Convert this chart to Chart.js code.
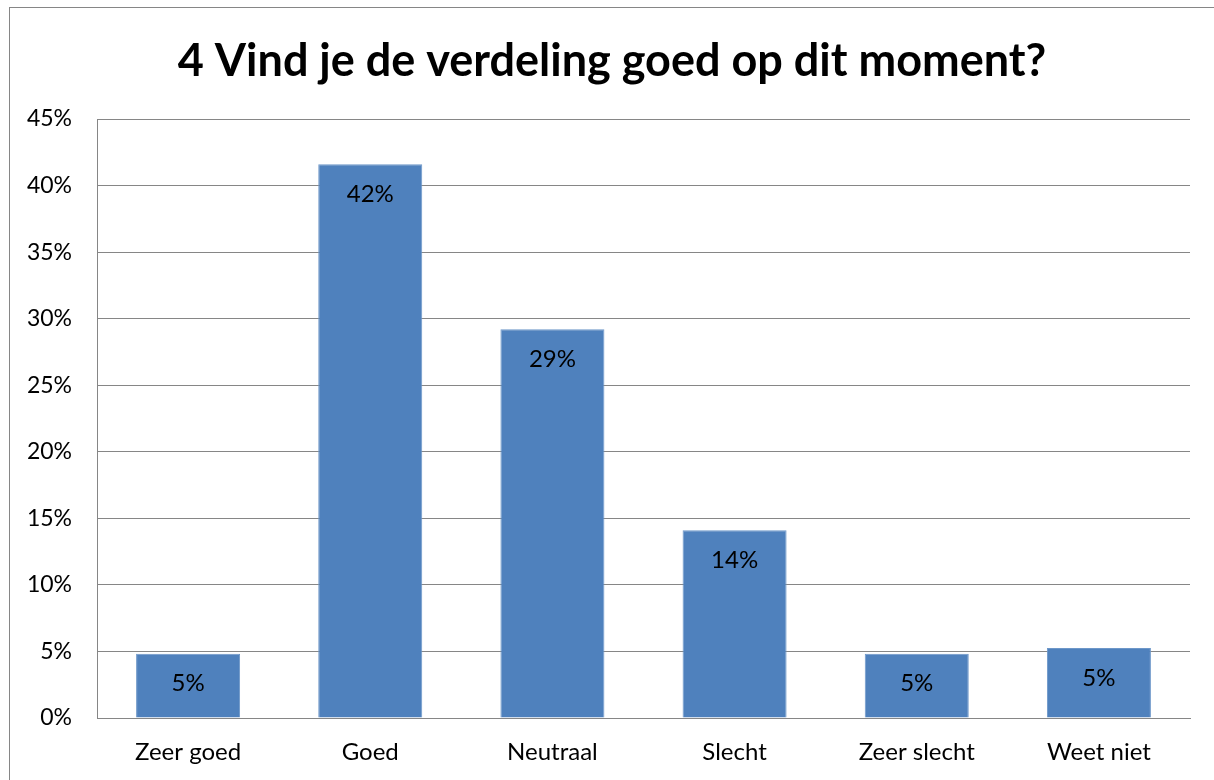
<!DOCTYPE html>
<html>
<head>
<meta charset="utf-8">
<script src="https://cdn.jsdelivr.net/npm/chart.js@4/dist/chart.umd.min.js"></script>
<style>
  html, body { margin: 0; padding: 0; background: #fff; overflow: hidden; }
  #wrap { position: relative; width: 1214px; height: 780px; }
  #frame { position: absolute; left: 9px; top: 7px; width: 1220px; height: 800px; border: 1px solid #868686; }
  #chart { position: absolute; left: 0; top: 0; }
</style>
</head>
<body>
<div id="wrap">
  <div id="frame"></div>
  <canvas id="chart" width="1214" height="780"></canvas>
</div>
<script>
const TITLE = "4 Vind je de verdeling goed op dit moment?";
const categories = ["Zeer goed", "Goed", "Neutraal", "Slecht", "Zeer slecht", "Weet niet"];
const shares = [4.83, 41.6, 29.2, 14.1, 4.83, 5.26];
const Y_MAX = 45;
const Y_STEP = 5;

const FONT = "Lato, 'Open Sans', sans-serif";
const BAR_BLUE = "#4f81bd";
const GRID_GREY = "#868686";

// draws the value inside the top of each bar, like the "inside end" labels
const barLabels = {
  id: "barLabels",
  afterDatasetsDraw(chart) {
    const ctx = chart.ctx;
    const meta = chart.getDatasetMeta(0);
    ctx.save();
    ctx.font = "24px " + FONT;
    ctx.fillStyle = "#000";
    ctx.textAlign = "center";
    ctx.textBaseline = "middle";
    meta.data.forEach((bar, i) => {
      ctx.fillText(Math.round(shares[i]) + "%", bar.x, bar.y + 30);
    });
    ctx.restore();
  }
};

new Chart(document.getElementById("chart"), {
  type: "bar",
  data: {
    labels: categories,
    datasets: [{
      data: shares,
      backgroundColor: BAR_BLUE,
      borderColor: "#6d97c9",
      borderWidth: 1,
      categoryPercentage: 1,
      barPercentage: 0.571
    }]
  },
  options: {
    responsive: false,
    animation: false,
    // left/right padding keeps the title centred on the framed box
    layout: { padding: { left: 17, right: 7, top: 0, bottom: 0 } },
    plugins: {
      legend: { display: false },
      tooltip: { enabled: false },
      title: {
        display: true,
        text: TITLE,
        color: "#000",
        font: { family: FONT, size: 45, weight: "bold", lineHeight: 1.2 },
        padding: { top: 34, bottom: 31 }
      }
    },
    scales: {
      x: {
        grid: { display: false, drawTicks: false },
        border: { display: true, color: GRID_GREY, width: 1 },
        ticks: { color: "#000", font: { family: FONT, size: 24 }, padding: 20 },
        afterFit(scale) { scale.height = 62; }
      },
      y: {
        min: 0,
        max: Y_MAX,
        ticks: {
          stepSize: Y_STEP,
          color: "#000",
          font: { family: FONT, size: 23 },
          padding: 25,
          callback: (v) => v + "%"
        },
        grid: { color: GRID_GREY, lineWidth: 1, drawTicks: false },
        border: { display: true, color: GRID_GREY, width: 1 },
        afterFit(scale) { scale.width = 80; }
      },
      // empty spacer on the right so the plot ends where the reference does
      spacer: {
        type: "linear",
        position: "right",
        grid: { display: false, drawTicks: false },
        border: { display: false },
        ticks: { display: false },
        afterFit(scale) { scale.width = 17; }
      }
    }
  },
  plugins: [barLabels]
});
</script>
</body>
</html>
